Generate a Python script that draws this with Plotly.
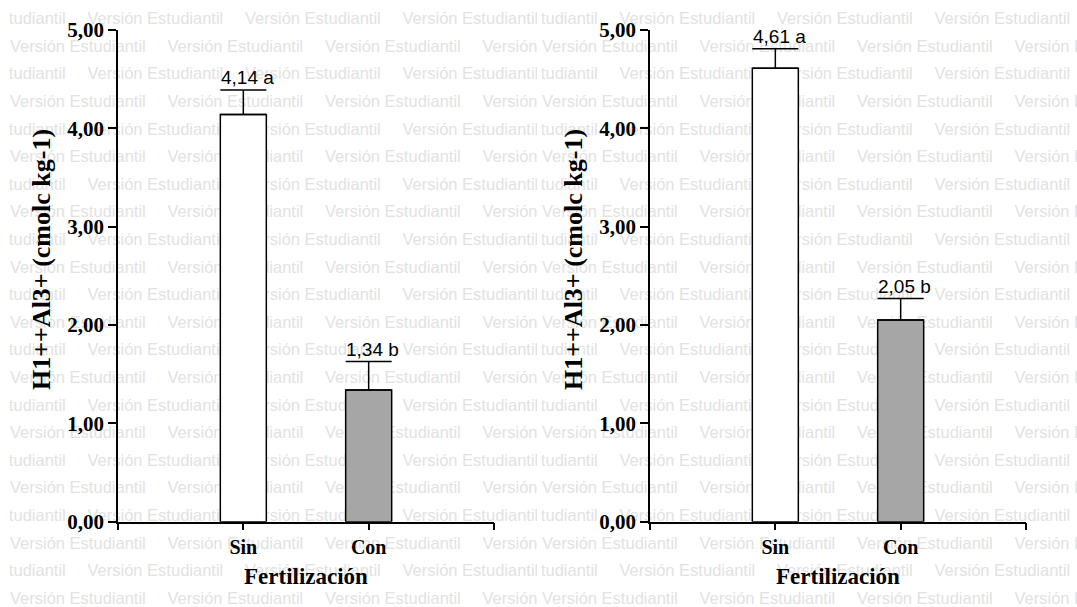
import plotly.graph_objects as go

# Fertilization treatments and H+ + Al3+ means (cmolc kg-1) for the two panels
categories = ["Sin", "Con"]
positions = [1, 2]

left_means = [4.14, 1.34]
left_errors = [0.25, 0.29]
left_letters = ["a", "b"]

right_means = [4.61, 2.05]
right_errors = [0.20, 0.22]
right_letters = ["a", "b"]

y_ticks = [0, 1, 2, 3, 4, 5]
y_tick_labels = [f"{v:.2f}".replace(".", ",") for v in y_ticks]

bar_colors = ["#ffffff", "#a6a6a6"]

W, H = 1077, 607
SERIF = "Liberation Serif, Times New Roman, serif"
SANS = "Liberation Sans, Arial, sans-serif"

fig = go.Figure()

# ---- background watermark rows (pixel-space helper subplots, drawn first) ----
wm_text = "Versión Estudiantil"
row_step = 27.6
tile_step = 157.5
panels_origin = [0, 532]
clip_ranges = [(9.5, 537.0), (541.5, 1077.0)]
for k, (origin, (x0, x1)) in enumerate(zip(panels_origin, clip_ranges)):
    xs, ys = [], []
    for r in range(22):
        yy = 20 + row_step * r
        start = origin + (10 - 80 if r % 2 == 0 else 10)
        xx = start
        while xx < x1 + 5:
            xs.append(xx)
            ys.append(yy)
            xx += tile_step
    suffix = "" if k == 0 else "2"
    fig.add_trace(go.Scatter(
        x=xs, y=ys, mode="text", text=[wm_text] * len(xs),
        textposition="middle right",
        textfont=dict(family=SANS, size=16.5, color="#e2e2e2"),
        hoverinfo="skip", showlegend=False, cliponaxis=True,
        xaxis="x" + suffix, yaxis="y" + suffix,
    ))
    fig.update_layout(**{
        "xaxis" + suffix: dict(domain=[x0 / W, x1 / W], range=[x0, x1], visible=False, fixedrange=True),
        "yaxis" + suffix: dict(domain=[0, 1], range=[H, 0], visible=False, fixedrange=True),
    })


# ---- bar panels ----
def add_panel(means, errors, letters, xa, ya, x_left_px, x_right_px):
    fig.add_trace(go.Bar(
        x=positions, y=means, width=0.367,
        marker=dict(color=bar_colors, line=dict(color="black", width=1.5)),
        error_y=dict(type="data", symmetric=False, array=errors, arrayminus=[0] * len(errors),
                     color="black", thickness=1.5, width=23),
        showlegend=False, hoverinfo="skip",
        xaxis=xa, yaxis=ya,
    ))
    for p, m, e, l in zip(positions, means, errors, letters):
        fig.add_annotation(
            x=p, y=m + e, xref=xa, yref=ya, xshift=4, yshift=12,
            xanchor="center", yanchor="middle",
            text=f"{m:.2f}".replace(".", ",") + " " + l,
            showarrow=False, font=dict(family=SANS, size=19, color="black"),
        )
    ax_name = "xaxis" + xa[1:]
    ay_name = "yaxis" + ya[1:]
    fig.update_layout(**{
        ax_name: dict(
            domain=[x_left_px / W, x_right_px / W], range=[0, 3],
            tickvals=[0, 1, 2, 3], ticktext=[""] + categories + [""],
            ticks="outside", ticklen=7, tickwidth=1.5, tickcolor="black",
            showline=True, linecolor="black", linewidth=1.5,
            showgrid=False, zeroline=False, anchor=ya, fixedrange=True,
            tickfont=dict(family=SERIF, size=20, color="black", weight="bold"),
        ),
        ay_name: dict(
            domain=[(H - 521.7) / H, (H - 30) / H], range=[0, 5],
            tickvals=y_ticks, ticktext=y_tick_labels,
            ticks="outside", ticklen=8, tickwidth=1.5, tickcolor="black",
            showline=True, linecolor="black", linewidth=1.5,
            showgrid=False, zeroline=False, anchor=xa, fixedrange=True,
            tickfont=dict(family=SERIF, size=21, color="black", weight="bold"),
        ),
    })
    # axis titles
    mid_x = (x_left_px + x_right_px) / 2
    fig.add_annotation(
        x=mid_x / W, y=(H - 576) / H, xref="paper", yref="paper",
        xanchor="center", yanchor="middle",
        text="Fertilización", showarrow=False,
        font=dict(family=SERIF, size=23, color="black", weight="bold"),
    )
    fig.add_annotation(
        x=(x_left_px - 77) / W, y=(H - 260) / H, xref="paper", yref="paper",
        xanchor="center", yanchor="middle",
        text="H1++Al3+ (cmolc kg-1)", showarrow=False, textangle=-90,
        font=dict(family=SERIF, size=26, color="black", weight="bold"),
    )


add_panel(left_means, left_errors, left_letters, "x3", "y3", 118, 494)
add_panel(right_means, right_errors, right_letters, "x4", "y4", 650, 1026)

fig.update_layout(
    width=W, height=H,
    margin=dict(l=0, r=0, t=0, b=0, pad=0, autoexpand=False),
    paper_bgcolor="white", plot_bgcolor="rgba(0,0,0,0)",
    showlegend=False,
)

fig.write_html("out.html")
